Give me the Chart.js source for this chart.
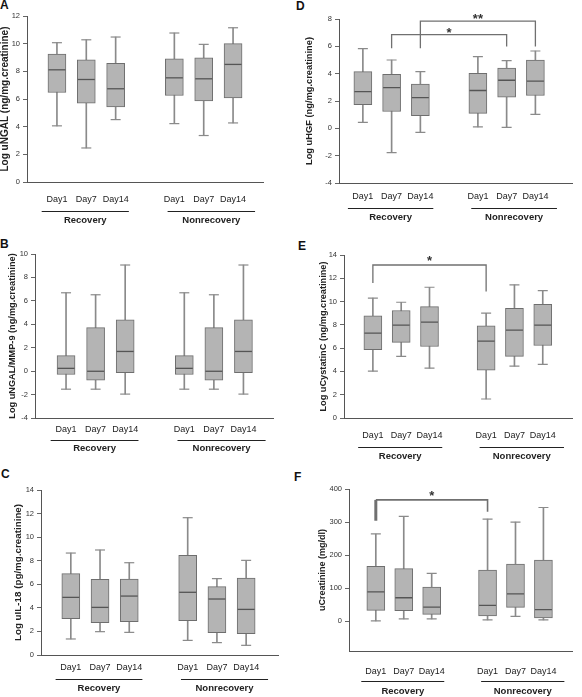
<!DOCTYPE html>
<html><head><meta charset="utf-8">
<script src="https://cdn.jsdelivr.net/npm/chart.js@4.4.1/dist/chart.umd.min.js"></script>
<style>
html,body{margin:0;padding:0;background:#fff}
body{width:582px;height:697px;position:relative;overflow:hidden;font-family:"Liberation Sans",Arial,sans-serif}
canvas{position:absolute;display:block}
.lt{position:absolute;font:bold 12px "Liberation Sans",Arial,sans-serif;line-height:12px;color:#111}
</style></head>
<body>
<div class="lt" style="left:0px;top:-1px">A</div>
<div class="lt" style="left:296px;top:0px">D</div>
<div class="lt" style="left:0px;top:238px">B</div>
<div class="lt" style="left:298px;top:240px">E</div>
<div class="lt" style="left:1px;top:468px">C</div>
<div class="lt" style="left:294px;top:471px">F</div>
<canvas id="cA"></canvas><canvas id="cD"></canvas>
<canvas id="cB"></canvas><canvas id="cE"></canvas>
<canvas id="cC"></canvas><canvas id="cF"></canvas>
<script>
// ---------- data ----------
const dayLabels = ['Day1','Day7','Day14','Day1','Day7','Day14'];
const groupLabels = ['Recovery','Nonrecovery'];

// A: Log uNGAL
const aTitle = 'Log uNGAL (ng/mg.creatinine)';
const aTicks = [0,2,4,6,8,10,12];
const aMax = [10.07,10.28,10.48,10.77,9.95,11.15];
const aQ3  = [9.25,8.84,8.57,8.91,8.98,10.0];
const aMed = [8.11,7.41,6.74,7.53,7.46,8.5];
const aQ1  = [6.47,5.70,5.43,6.25,5.87,6.08];
const aMin = [4.06,2.46,4.51,4.22,3.36,4.27];

// B: Log uNGAL/MMP-9
const bTitle = 'Log uNGAL/MMP-9 (ng/mg.creatinine)';
const bTicks = [-4,-2,0,2,4,6,8,10];
const bMax = [6.69,6.52,9.06,6.69,6.52,9.06];
const bQ3  = [1.32,3.72,4.37,1.32,3.72,4.37];
const bMed = [0.24,-0.01,1.68,0.24,-0.01,1.68];
const bQ1  = [-0.29,-0.78,-0.12,-0.29,-0.78,-0.12];
const bMin = [-1.54,-1.54,-1.96,-1.54,-1.54,-1.96];

// C: Log uIL-18
const cTitle = 'Log uIL-18 (pg/mg.creatinine)';
const cTicks = [0,2,4,6,8,10,12,14];
const cMax = [8.65,8.91,7.83,11.65,6.48,8.03];
const cQ3  = [6.9,6.42,6.45,8.46,5.8,6.53];
const cMed = [4.89,4.04,5.0,5.32,4.75,3.87];
const cQ1  = [3.08,2.74,2.83,2.91,1.89,1.81];
const cMin = [1.36,1.98,1.92,1.24,1.05,0.82];

// D: Log uHGF
const dTitle = 'Log uHGF (ng/mg.creatinine)';
const dTicks = [-4,-2,0,2,4,6,8];
const dMax = [5.83,5.0,4.15,5.25,4.96,5.66];
const dQ3  = [4.15,3.96,3.23,4.03,4.40,5.0];
const dMed = [2.69,2.98,2.25,2.77,3.52,3.45];
const dQ1  = [1.74,1.23,0.93,1.09,2.28,2.40];
const dMin = [0.43,-1.78,-0.3,0.11,0.07,1.02];
const dSigFrom = [1,2];
const dSigTo = [4,5];
const dSigTop = [6.85,7.85];
const dSigLeftEnd = [5.86,5.86];
const dSigRightEnd = [5.98,5.98];
const dSigMark = ['*','**'];

// E: Log uCystatinC
const eTitle = 'Log uCystatinC (ng/mg.creatinine)';
const eTicks = [0,2,4,6,8,10,12,14];
const eMax = [10.29,9.94,11.23,9.0,11.43,10.94];
const eQ3  = [8.77,9.23,9.57,7.91,9.43,9.77];
const eMed = [7.29,7.97,8.23,6.6,7.54,7.97];
const eQ1  = [5.86,6.49,6.14,4.11,5.29,6.23];
const eMin = [4.03,5.29,4.29,1.63,4.46,4.6];
const eSigFrom = [0];
const eSigTo = [3];
const eSigTop = [13.14];
const eSigLeftEnd = [11.6];
const eSigRightEnd = [10.86];
const eSigMark = ['*'];

// F: uCreatinine
const fTitle = 'uCreatinine (mg/dl)';
const fTicks = [0,100,200,300,400];
const fMax = [264,317,145,309,300,344];
const fQ3  = [166,159,103,155,173,185];
const fMed = [89,71,43,48,83,35];
const fQ1  = [33,32,21,16,42,10];
const fMin = [1,7,7,4,15,4];
const fSigFrom = [0];
const fSigTo = [3];
const fSigTop = [367];
const fSigLeftEnd = [304];
const fSigRightEnd = [331];
const fSigMark = ['*'];

// ---------- styles ----------
const FONT = '"Liberation Sans", Arial, sans-serif';
const BOX_FILL = '#b4b4b4', BOX_LINE = '#6e6e6e', MED_LINE = '#555555', WHISK = '#8a8a8a', BRACKET = '#707070', INK = '#222222';
Chart.defaults.font.family = FONT;

const panels = [
  {cv:'cA', rect:[0,0,291,232], yw:27, padTop:16, padRight:28, xh:50, xMin:-1.02, xMax:7.02, tickPad:12, ulOff:29, glOff:38, titlePad:0, titleSize:10,
   yMin:0, yMax:12, ticks:aTicks, title:aTitle, s:[aMin,aQ1,aMed,aQ3,aMax], sig:null},
  {cv:'cD', rect:[291,0,291,232], yw:48, padTop:19, padRight:8, xh:49, xMin:-0.83, xMax:7.28, tickPad:8.4, ulOff:25.4, glOff:34.7, titlePad:14, titleSize:9.3,
   yMin:-4, yMax:8, ticks:dTicks, title:dTitle, s:[dMin,dQ1,dMed,dQ3,dMax],
   sig:{from:dSigFrom,to:dSigTo,top:dSigTop,l:dSigLeftEnd,r:dSigRightEnd,mark:dSigMark}, sigW:1.3, sigLW:1.3, starOff:2},
  {cv:'cB', rect:[0,230,291,232], yw:35, padTop:24, padRight:18, xh:44, xMin:-1.05, xMax:7.0, tickPad:5.7, ulOff:21.7, glOff:30.7, titlePad:8, titleSize:9.2,
   yMin:-4, yMax:10, ticks:bTicks, title:bTitle, s:[bMin,bQ1,bMed,bQ3,bMax], sig:null},
  {cv:'cE', rect:[291,230,291,232], yw:53, padTop:25, padRight:1, xh:44, xMin:-1.02, xMax:7.04, tickPad:11.7, ulOff:29, glOff:38.4, titlePad:27.4, titleSize:9.2,
   yMin:0, yMax:14, ticks:eTicks, title:eTitle, s:[eMin,eQ1,eMed,eQ3,eMax],
   sig:{from:eSigFrom,to:eSigTo,top:eSigTop,l:eSigLeftEnd,r:eSigRightEnd,mark:eSigMark}, sigW:1.3, sigLW:1.3, starOff:0},
  {cv:'cC', rect:[0,460,291,237], yw:41, padTop:30, padRight:13, xh:42, xMin:-1.02, xMax:7.09, tickPad:6.7, ulOff:24, glOff:33.7, titlePad:13.6, titleSize:9.8,
   yMin:0, yMax:14, ticks:cTicks, title:cTitle, s:[cMin,cQ1,cMed,cQ3,cMax], sig:null},
  {cv:'cF', rect:[291,460,291,237], yw:58, padTop:29, padRight:1, xh:46, xMin:-0.96, xMax:7.03, tickPad:14.7, ulOff:30, glOff:40.7, titlePad:27.2, titleSize:9,
   yMin:-90, yMax:400, ticks:fTicks, title:fTitle, s:[fMin,fQ1,fMed,fQ3,fMax],
   sig:{from:fSigFrom,to:fSigTo,top:fSigTop,l:fSigLeftEnd,r:fSigRightEnd,mark:fSigMark}, sigW:1.6, sigLW:3, starOff:0}
];

// category index -> x position (gap between the two groups)
const pos = i => (i < 3 ? i : i + 1);
const groupSpan = [[-0.52, 2.45], [3.77, 6.75]];

function build(p) {
  const cv = document.getElementById(p.cv);
  cv.style.left = p.rect[0] + 'px'; cv.style.top = p.rect[1] + 'px';
  cv.width = p.rect[2]; cv.height = p.rect[3];
  const [mn, q1, md, q3, mx] = p.s;
  const idx = dayLabels.map((_, i) => i);
  const datasets = [
    {type:'bar', data: idx.map(i => ({x: pos(i), y: [mn[i], mx[i]]})), backgroundColor: WHISK, borderWidth: 0,
     barThickness: 1, grouped: false, order: 4},
    {type:'bar', data: idx.map(i => ({x: pos(i), y: [q1[i], q3[i]]})), backgroundColor: BOX_FILL, borderColor: BOX_LINE,
     borderWidth: 1, borderSkipped: false, barThickness: 18, grouped: false, order: 3},
    {type:'line', showLine: false, data: idx.flatMap(i => [{x: pos(i), y: mn[i]}, {x: pos(i), y: mx[i]}]),
     pointStyle: 'line', pointRadius: 5, pointBorderColor: WHISK, pointBorderWidth: 1.2, order: 2},
    {type:'line', showLine: false, data: idx.map(i => ({x: pos(i), y: md[i]})),
     pointStyle: 'line', pointRadius: 8.5, pointBorderColor: MED_LINE, pointBorderWidth: 1.3, order: 1}
  ];
  if (p.sig) {
    p.sig.from.forEach((f, k) => {
      const t = p.sig.to[k];
      datasets.push({type:'line', clip: false, pointRadius: 0, borderColor: BRACKET, borderWidth: p.sigW, tension: 0,
        data: [{x: pos(f), y: p.sig.l[k]}, {x: pos(f), y: p.sig.top[k]}, {x: pos(t), y: p.sig.top[k]}, {x: pos(t), y: p.sig.r[k]}],
        segment: {borderWidth: c => (c.p0DataIndex === 0 ? p.sigLW : p.sigW)}, order: 0});
    });
  }
  const deco = {
    id: 'deco',
    afterDraw(chart) {
      const x = chart.scales.x, y = chart.scales.y, ctx = chart.ctx;
      ctx.save();
      ctx.strokeStyle = INK; ctx.lineWidth = 1; ctx.fillStyle = INK;
      ctx.font = 'bold 9.5px ' + FONT; ctx.textAlign = 'center'; ctx.textBaseline = 'middle';
      groupSpan.forEach((g, k) => {
        const a = x.getPixelForValue(g[0]), b = x.getPixelForValue(g[1]);
        const yy = Math.round(x.top + p.ulOff) + 0.5;
        ctx.beginPath(); ctx.moveTo(a, yy); ctx.lineTo(b, yy); ctx.stroke();
        ctx.fillText(groupLabels[k], (a + b) / 2, x.top + p.glOff);
      });
      if (p.sig) {
        ctx.font = 'bold 13px ' + FONT; ctx.textBaseline = 'alphabetic'; ctx.fillStyle = '#333';
        p.sig.from.forEach((f, k) => {
          const cx = x.getPixelForValue((pos(f) + pos(p.sig.to[k])) / 2);
          const cy = y.getPixelForValue(p.sig.top[k]);
          ctx.fillText(p.sig.mark[k], cx, cy + p.starOff);
        });
      }
      ctx.restore();
    }
  };
  new Chart(cv, {
    type: 'bar',
    data: {datasets},
    plugins: [deco],
    options: {
      responsive: false, animation: false, devicePixelRatio: 1, events: [],
      layout: {padding: {left: 0, top: p.padTop, right: p.padRight, bottom: 0}},
      plugins: {legend: {display: false}, tooltip: {enabled: false}},
      scales: {
        x: {type: 'linear', min: p.xMin, max: p.xMax, offset: false,
            grid: {display: true, drawOnChartArea: false, drawTicks: false, offset: false},
            border: {display: true, color: '#555', width: 1},
            afterBuildTicks: s => { s.ticks = dayLabels.map((_, i) => ({value: pos(i)})); },
            afterFit: s => { s.height = p.xh; },
            ticks: {autoSkip: false, maxRotation: 0, padding: p.tickPad, color: INK, font: {size: 9},
                    callback: (v, i) => dayLabels[i]}},
        y: {type: 'linear', min: p.yMin, max: p.yMax,
            grid: {display: true, drawOnChartArea: false, drawTicks: true, tickLength: 4, color: '#666'},
            border: {display: true, color: '#555', width: 1},
            afterBuildTicks: s => { s.ticks = p.ticks.map(v => ({value: v})); },
            afterFit: s => { s.width = p.yw; },
            ticks: {padding: 3, color: '#333', font: {size: 7.5}},
            title: {display: true, text: p.title, color: INK, font: {size: p.titleSize, weight: 'bold', lineHeight: 1},
                    padding: {top: p.titlePad, bottom: 0}}}
      }
    }
  });
}
panels.forEach(build);
</script>
</body></html>
